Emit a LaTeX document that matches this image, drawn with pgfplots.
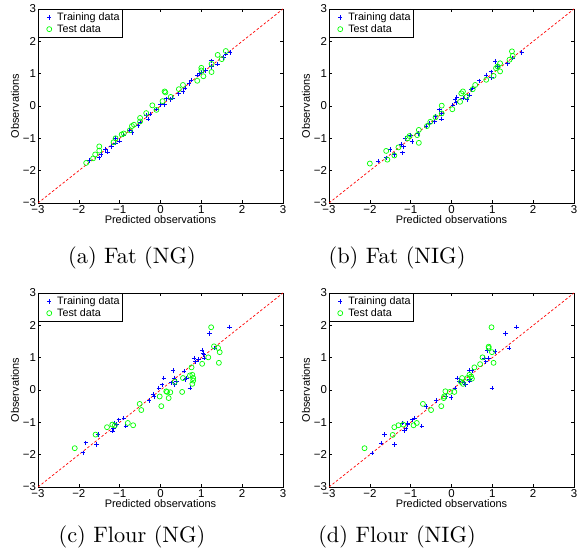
\documentclass[border=0pt]{standalone}
\usepackage{fontspec}
\usepackage{pgfplots}
\pgfplotsset{compat=1.18}
\newfontfamily\hel{Liberation Sans}
\newfontfamily\lmten{lmroman10-regular.otf}

\definecolor{mblue}{rgb}{0,0,1}
\definecolor{mgreen}{rgb}{0,1,0}

\pgfplotsset{
  mstyle/.style={
    scale only axis, width=245bp, height=194bp,
    xmin=-3, xmax=3, ymin=-3, ymax=3,
    xtick={-3,...,3}, ytick={-3,...,3},
    xticklabels={−3,−2,−1,0,1,2,3},
    yticklabels={−3,−2,−1,0,1,2,3},
    tick align=inside, major tick length=3bp,
    axis line style={line width=0.5bp},
    every tick/.style={black, line width=0.5bp},
    ticklabel style={font=\hel\fontsize{11.5}{13}\selectfont},
    xticklabel style={yshift=1bp},
    yticklabel style={xshift=1.5bp},
    label style={font=\hel\fontsize{11}{13}\selectfont},
    xlabel={Predicted observations},
    ylabel={Observations},
    xlabel style={yshift=5bp},
    ylabel style={yshift=-3bp},
    legend style={at={(0,1)}, anchor=north west, draw=black,
      font=\hel\fontsize{10.8}{12}\selectfont, inner xsep=1bp, inner ysep=1.5bp,
      row sep=-1.5bp, line width=0.5bp},
    legend cell align=left,
    legend image code/.code={%
      \draw[##1, draw=none] (0bp,0bp) -- (16bp,0bp);
      \draw[##1] plot coordinates {(10bp,0bp)};},
    clip=true,
  },
  train/.style={only marks, mark=+, mark size=2.2bp, color=mblue, line width=0.8bp},
  test/.style={only marks, mark=o, mark size=2.5bp, color=mgreen, line width=0.7bp},
  diag/.style={red, dash pattern=on 2.5bp off 2bp, line width=0.7bp},
}

\begin{document}
\begin{tikzpicture}[x=1bp,y=1bp]
\useasboundingbox (0,0) rectangle (577,554);

% (a) Fat (NG)
\begin{axis}[mstyle, at={(38bp,351bp)}, anchor=south west]
\addplot[train] coordinates {(-1.75,-1.68)(-1.5,-1.6)(-1.45,-1.5)(-1.35,-1.35)(-1.3,-1.42)(-1.2,-1.25)(-1.1,-1.15)(-1.0,-1.08)(-1.1,-1.0)(-0.9,-0.9)(-0.7,-0.82)(-0.75,-0.75)(-0.55,-0.6)(-0.5,-0.5)(-0.35,-0.3)(-0.3,-0.4)(-0.25,-0.25)(-0.1,-0.1)(0.0,0.05)(0.1,0.05)(0.15,0.22)(0.25,0.2)(0.3,0.25)(0.45,0.38)(0.55,0.45)(0.6,0.55)(0.7,0.7)(0.75,0.8)(0.9,0.95)(0.95,1.0)(1.0,1.05)(1.1,1.1)(1.25,1.22)(1.25,1.4)(1.4,1.3)(1.55,1.5)(1.6,1.6)(1.7,1.65)};
\addplot[test] coordinates {(-1.82,-1.76)(-1.65,-1.62)(-1.6,-1.5)(-1.5,-1.38)(-1.5,-1.25)(-1.15,-1.12)(-1.1,-1.0)(-0.95,-0.88)(-0.9,-0.85)(-0.75,-0.75)(-0.7,-0.62)(-0.65,-0.58)(-0.5,-0.48)(-0.5,-0.37)(-0.35,-0.22)(-0.2,0.02)(-0.1,-0.12)(0.05,0.15)(0.1,0.45)(0.12,0.42)(0.25,0.28)(0.45,0.52)(0.55,0.65)(0.9,0.78)(1.0,1.18)(1.05,0.92)(1.0,1.1)(1.25,1.05)(1.25,1.3)(1.4,1.58)(1.5,1.45)(1.6,1.7)};
\addplot[diag, forget plot] coordinates {(-3,-3)(3,3)};
\legend{Training data, Test data}
\end{axis}

% (b) Fat (NIG)
\begin{axis}[mstyle, at={(329bp,351bp)}, anchor=south west]
\addplot[train] coordinates {(-1.8,-1.7)(-1.6,-1.6)(-1.5,-1.35)(-1.4,-1.5)(-1.23,-1.18)(-1.2,-1.45)(-1.18,-1.26)(-1.14,-1.0)(-0.97,-1.1)(-1.0,-0.9)(-0.82,-0.85)(-0.62,-0.64)(-0.54,-0.54)(-0.42,-0.49)(-0.4,-0.33)(-0.29,-0.12)(-0.25,-0.4)(-0.25,-0.23)(0.03,0.03)(0.09,0.2)(0.13,0.27)(0.11,0.1)(0.28,0.24)(0.38,0.2)(0.44,0.34)(0.48,0.5)(0.52,0.55)(0.68,0.78)(0.85,0.96)(0.97,1.06)(0.98,0.88)(1.07,1.38)(1.13,1.22)(1.37,1.32)(1.5,1.48)(1.72,1.66)};
\addplot[test] coordinates {(-2.0,-1.78)(-1.6,-1.39)(-1.57,-1.66)(-1.4,-1.53)(-1.3,-1.28)(-1.07,-1.0)(-1.03,-0.93)(-0.84,-0.9)(-0.8,-0.74)(-0.8,-1.14)(-0.6,-0.62)(-0.52,-0.49)(-0.39,-0.35)(-0.24,0.01)(-0.24,-0.23)(0.02,-0.1)(0.21,0.13)(0.24,0.39)(0.28,0.45)(0.37,0.29)(0.52,0.52)(0.58,0.65)(0.85,0.81)(1.03,0.93)(1.09,1.17)(1.13,1.22)(1.19,1.07)(1.19,1.32)(1.42,1.43)(1.48,1.69)(1.5,1.55)};
\addplot[diag, forget plot] coordinates {(-3,-3)(3,3)};
\legend{Training data, Test data}
\end{axis}

% (c) Flour (NG)
\begin{axis}[mstyle, at={(38bp,67bp)}, anchor=south west]
\addplot[train] coordinates {(-1.9,-1.94)(-1.83,-1.63)(-1.57,-1.69)(-1.53,-1.38)(-1.18,-1.27)(-1.15,-1.2)(-1.12,-1.02)(-1.08,-1.07)(-1.02,-0.92)(-0.9,-0.87)(-0.85,-1.12)(-0.28,-0.32)(-0.18,-0.14)(-0.16,-0.2)(-0.04,0.06)(0.04,0.16)(0.08,0.37)(0.27,0.22)(0.31,0.6)(0.33,0.37)(0.35,0.16)(0.39,0.27)(0.58,0.58)(0.6,0.32)(0.64,0.37)(0.72,0.06)(0.82,0.99)(0.86,0.87)(0.93,0.94)(1.02,1.23)(1.04,1.14)(1.06,1.09)(1.07,0.99)(1.2,1.75)(1.33,1.3)(1.69,1.95)};
\addplot[test] coordinates {(-2.1,-1.8)(-1.59,-1.38)(-1.31,-1.15)(-1.18,-1.07)(-1.12,-1.1)(-0.8,-1.02)(-0.67,-1.09)(-0.51,-0.43)(-0.47,-0.62)(-0.02,-0.2)(0.02,-0.5)(0.14,-0.04)(0.16,-0.06)(0.2,-0.25)(0.24,-0.07)(0.35,0.25)(0.53,-0.06)(0.55,0.37)(0.72,0.45)(0.76,0.7)(0.78,0.19)(0.78,0.47)(0.8,0.37)(0.8,0.29)(1.02,0.81)(1.17,1.01)(1.24,1.94)(1.31,1.35)(1.41,1.3)(1.43,0.84)(1.45,1.17)};
\addplot[diag, forget plot] coordinates {(-3,-3)(3,3)};
\legend{Training data, Test data}
\end{axis}

% (d) Flour (NIG)
\begin{axis}[mstyle, at={(329bp,67bp)}, anchor=south west]
\addplot[train] coordinates {(-1.94,-1.95)(-1.72,-1.64)(-1.64,-1.38)(-1.4,-1.69)(-1.21,-1.02)(-1.15,-1.26)(-1.11,-1.2)(-1.07,-1.02)(-1.07,-1.07)(-0.96,-0.92)(-0.91,-0.87)(-0.73,-1.12)(-0.62,-0.51)(-0.38,-0.32)(-0.13,-0.2)(-0.01,-0.23)(0.09,0.06)(0.15,0.37)(0.19,0.27)(0.31,0.22)(0.34,0.16)(0.44,0.6)(0.44,0.32)(0.45,0.27)(0.5,0.6)(0.8,0.99)(0.84,0.87)(0.88,1.22)(0.91,0.99)(0.99,0.06)(1.07,1.19)(1.32,1.75)(1.41,1.3)(1.59,1.95)};
\addplot[test] coordinates {(-2.13,-1.8)(-1.44,-1.39)(-1.4,-1.15)(-1.3,-1.09)(-1.18,-1.07)(-0.93,-1.09)(-0.85,-1.02)(-0.7,-0.43)(-0.5,-0.62)(-0.25,-0.5)(-0.19,-0.25)(-0.18,-0.2)(-0.15,-0.04)(-0.04,-0.06)(0.07,-0.06)(0.23,0.25)(0.26,0.37)(0.28,0.19)(0.39,0.37)(0.44,0.47)(0.48,0.42)(0.5,0.35)(0.56,0.7)(0.7,0.8)(0.76,1.01)(0.91,1.3)(0.91,1.34)(0.98,1.94)(0.99,1.17)(1.03,0.84)};
\addplot[diag, forget plot] coordinates {(-3,-3)(3,3)};
\legend{Training data, Test data}
\end{axis}

\begin{scope}[every node/.style={font=\lmten\fontsize{22.4}{27}\selectfont}]
\node at (132,296) {(a) Fat (NG)};
\node at (397,296) {(b) Fat (NIG)};
\node at (132,17) {(c) Flour (NG)};
\node at (397,17) {(d) Flour (NIG)};
\end{scope}
\end{tikzpicture}
\end{document}
